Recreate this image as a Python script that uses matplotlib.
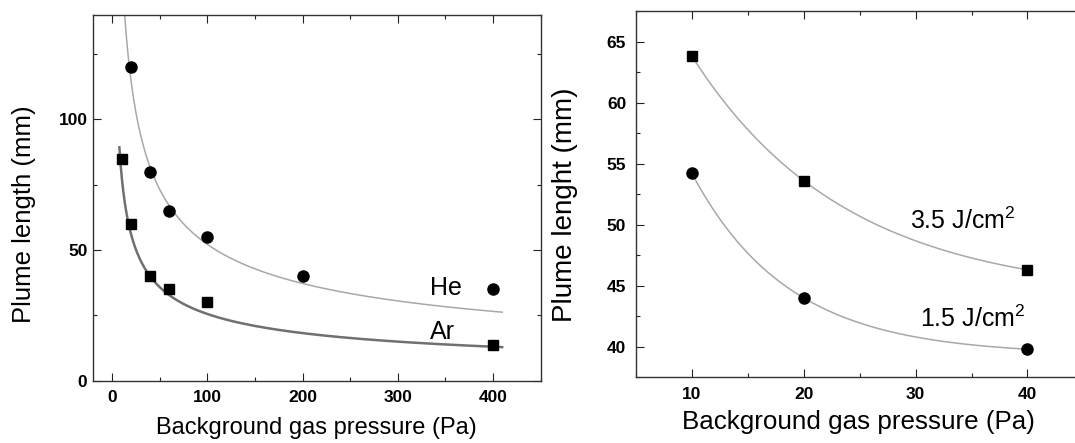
import numpy as np
from matplotlib import pyplot as plt
from matplotlib.ticker import MultipleLocator

plt.rcParams['font.family'] = ['Liberation Sans', 'DejaVu Sans']
plt.rcParams['mathtext.fontset'] = 'custom'
plt.rcParams['mathtext.rm'] = 'Liberation Sans'
plt.rcParams['mathtext.default'] = 'regular'

#%% Data - left panel (plume length vs pressure, He / Ar)
p_he = [20, 40, 60, 100, 200, 400]
len_he = [120, 80, 65, 55, 40, 35]
p_ar = [10, 20, 40, 60, 100, 400]
len_ar = [85, 60, 40, 35, 30, 13.5]

# power law fits y = a * p**b
fit_he = (496, -0.489, 13.3, 409.5)   # a, b, p start, p end
fit_ar = (242.4, -0.489, 7.7, 409.5)

#%% Data - right panel (two fluences)
p_fl = [10, 20, 40]
len_35 = [63.8, 53.6, 46.3]
len_15 = [54.2, 44.0, 39.8]


def exp_through(x, y):
    # y0 + A*exp(-x/t) passing through 3 points at x, 2x, 4x
    d1 = y[0] - y[1]
    d2 = y[1] - y[2]
    k = d2 / d1
    r = (-1 + np.sqrt(1 + 4 * k)) / 2
    A = d1 / (r * (1 - r))
    y0 = y[0] - A * r
    xx = np.linspace(x[0], x[-1], 200)
    return xx, y0 + A * r ** ((xx - x[0]) / (x[1] - x[0]) + 1)


def style_axes(ax):
    ax.tick_params(which='both', direction='in', top=True, right=True,
                   width=0.8, colors='#222222', labelcolor='black')
    ax.tick_params(which='major', length=6)
    ax.tick_params(which='minor', length=3)
    for lab in ax.get_xticklabels() + ax.get_yticklabels():
        lab.set_fontweight('bold')
        lab.set_fontsize(12.5)
    for s in ax.spines.values():
        s.set_color('#333333')
        s.set_linewidth(1.0)


fig = plt.figure(figsize=(10.75, 4.43), dpi=100)

#%% Left panel
ax1 = fig.add_axes([0.0865, 0.141, 0.4165, 0.825])
a, b, x0, x1 = fit_he
xx = np.linspace(x0, x1, 300)
ax1.plot(xx, a * xx ** b, color='#a8a8a8', lw=1.1)
a, b, x0, x1 = fit_ar
xx = np.linspace(x0, x1, 300)
ax1.plot(xx, a * xx ** b, color='#707070', lw=1.8)
ax1.plot(p_he, len_he, 'o', color='black', ms=8)
ax1.plot(p_ar, len_ar, 's', color='black', ms=7.5)
ax1.text(351, 35.5, 'He', fontsize=18, ha='center', va='center')
ax1.text(347, 18.5, 'Ar', fontsize=18, ha='center', va='center')
ax1.set_xlim(-20, 450)
ax1.set_ylim(0, 140)
ax1.xaxis.set_major_locator(MultipleLocator(100))
ax1.xaxis.set_minor_locator(MultipleLocator(50))
ax1.yaxis.set_major_locator(MultipleLocator(50))
ax1.yaxis.set_minor_locator(MultipleLocator(25))
ax1.tick_params(axis='x', pad=7)
ax1.tick_params(axis='y', pad=4)
ax1.set_xlabel('Background gas pressure (Pa)', fontsize=17, va='center')
ax1.set_ylabel('Plume length (mm)', fontsize=18.5, va='center')
ax1.xaxis.set_label_coords(0.498, -0.129)
ax1.yaxis.set_label_coords(-0.153, 0.455)
style_axes(ax1)

#%% Right panel
ax2 = fig.add_axes([0.5916, 0.1483, 0.4162, 0.8269])
xx, yy = exp_through(p_fl, len_35)
ax2.plot(xx, yy, color='#a8a8a8', lw=1.1)
xx, yy = exp_through(p_fl, len_15)
ax2.plot(xx, yy, color='#a8a8a8', lw=1.1)
ax2.plot(p_fl, len_35, 's', color='black', ms=7.5)
ax2.plot(p_fl, len_15, 'o', color='black', ms=8)
ax2.text(34.2, 50.3, '3.5 J/cm$^2$', fontsize=18, ha='center', va='center')
ax2.text(35.1, 42.3, '1.5 J/cm$^2$', fontsize=18, ha='center', va='center')
ax2.set_xlim(5, 45)
ax2.set_ylim(37.5, 67.5)
ax2.xaxis.set_major_locator(MultipleLocator(10))
ax2.xaxis.set_minor_locator(MultipleLocator(5))
ax2.yaxis.set_major_locator(MultipleLocator(5))
ax2.yaxis.set_minor_locator(MultipleLocator(2.5))
ax2.tick_params(axis='x', pad=7)
ax2.tick_params(axis='y', pad=7)
ax2.set_xlabel('Background gas pressure (Pa)', fontsize=18.7, va='center')
ax2.set_ylabel('Plume lenght (mm)', fontsize=20, va='center')
ax2.xaxis.set_label_coords(0.498, -0.121)
ax2.yaxis.set_label_coords(-0.159, 0.47)
style_axes(ax2)

fig.savefig('out.png', dpi=100)
